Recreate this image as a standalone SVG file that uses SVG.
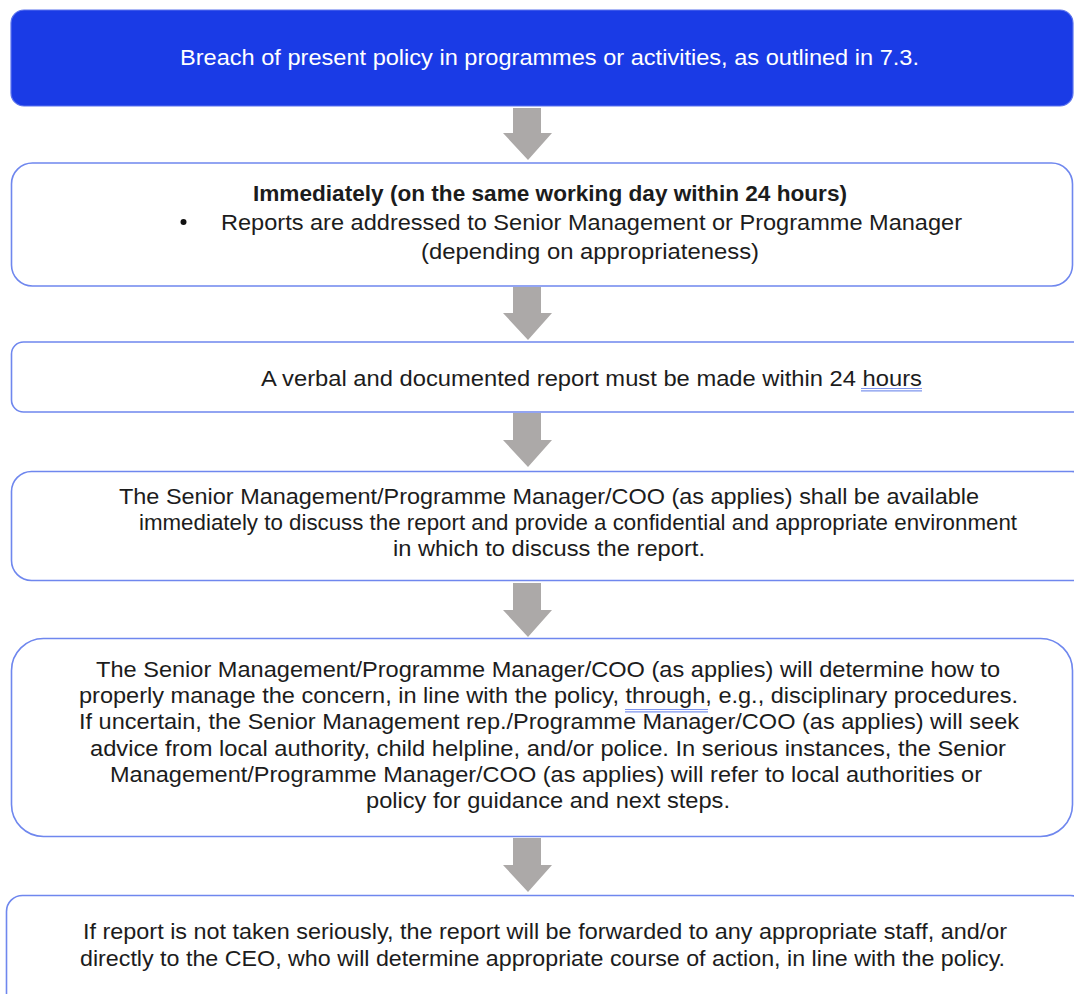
<svg xmlns="http://www.w3.org/2000/svg" width="1074" height="994" viewBox="0 0 1074 994">
<style>
.box{fill:#ffffff;stroke:#6f87ee;stroke-width:1.6}
.top{fill:#1a3be6;stroke:#5b73ee;stroke-width:1.2}
.t{font-family:"Liberation Sans",Arial,sans-serif;font-size:22px;fill:#1c1c1c}
.w{fill:#ffffff}
.b{font-weight:bold}
.arrow{fill:#aca9a8}
.ul{stroke:#7f96ee;stroke-width:1.2;fill:none}
</style>
<rect width="1074" height="994" fill="#ffffff"/>
<g id="connectors">
<path class="arrow" d="M513,108 H541 V133 H552 L528,160 L503,133 H513 Z"/>
<path class="arrow" d="M513,287 H541 V313 H552 L528,340 L503,313 H513 Z"/>
<path class="arrow" d="M513,413 H541 V440 H552 L528,467 L503,440 H513 Z"/>
<path class="arrow" d="M513,583 H541 V610 H552 L528,637 L503,610 H513 Z"/>
<path class="arrow" d="M513,838 H541 V865 H552 L528,892 L503,865 H513 Z"/>
</g>
<g id="node1">
<rect class="top" x="11" y="10" width="1062" height="96" rx="13"/>
<text class="t w" x="180" y="65" textLength="739" lengthAdjust="spacingAndGlyphs">Breach of present policy in programmes or activities, as outlined in 7.3.</text>
</g>
<g id="node2">
<rect class="box" x="11.5" y="163" width="1061" height="123" rx="21"/>
<text class="t b" x="253" y="201" textLength="594" lengthAdjust="spacingAndGlyphs">Immediately (on the same working day within 24 hours)</text>
<circle cx="183.5" cy="222" r="3" fill="#111"/>
<text class="t" x="221" y="230" textLength="741" lengthAdjust="spacingAndGlyphs">Reports are addressed to Senior Management or Programme Manager</text>
<text class="t" x="421" y="259" textLength="338" lengthAdjust="spacingAndGlyphs">(depending on appropriateness)</text>
</g>
<g id="node3">
<rect class="box" x="11.5" y="342" width="1080" height="70" rx="12"/>
<text class="t" x="261" y="386" textLength="661" lengthAdjust="spacingAndGlyphs">A verbal and documented report must be made within 24 hours</text>
<path class="ul" d="M861,388.5 H922 M861,390.8 H922"/>
</g>
<g id="node4">
<rect class="box" x="11.5" y="471.5" width="1080" height="109" rx="20"/>
<text class="t" x="119" y="504" textLength="860" lengthAdjust="spacingAndGlyphs">The Senior Management/Programme Manager/COO (as applies) shall be available</text>
<text class="t" x="139" y="530" textLength="878" lengthAdjust="spacingAndGlyphs">immediately to discuss the report and provide a confidential and appropriate environment</text>
<text class="t" x="393" y="556" textLength="312" lengthAdjust="spacingAndGlyphs">in which to discuss the report.</text>
</g>
<g id="node5">
<rect class="box" x="11.5" y="638.5" width="1061" height="198" rx="32"/>
<text class="t" x="96" y="677" textLength="904" lengthAdjust="spacingAndGlyphs">The Senior Management/Programme Manager/COO (as applies) will determine how to</text>
<text class="t" x="79" y="703" textLength="939" lengthAdjust="spacingAndGlyphs">properly manage the concern, in line with the policy, through, e.g., disciplinary procedures.</text>
<path class="ul" d="M625,709.5 H708 M625,711.8 H708"/>
<text class="t" x="79" y="729" textLength="940" lengthAdjust="spacingAndGlyphs">If uncertain, the Senior Management rep./Programme Manager/COO (as applies) will seek</text>
<text class="t" x="90" y="756" textLength="916" lengthAdjust="spacingAndGlyphs">advice from local authority, child helpline, and/or police. In serious instances, the Senior</text>
<text class="t" x="110" y="782" textLength="872" lengthAdjust="spacingAndGlyphs">Management/Programme Manager/COO (as applies) will refer to local authorities or</text>
<text class="t" x="366" y="808" textLength="364" lengthAdjust="spacingAndGlyphs">policy for guidance and next steps.</text>
</g>
<g id="node6">
<rect class="box" x="6.5" y="895.5" width="1080" height="130" rx="16"/>
<text class="t" x="83" y="939" textLength="924" lengthAdjust="spacingAndGlyphs">If report is not taken seriously, the report will be forwarded to any appropriate staff, and/or</text>
<text class="t" x="80" y="966" textLength="925" lengthAdjust="spacingAndGlyphs">directly to the CEO, who will determine appropriate course of action, in line with the policy.</text>
</g>
</svg>
